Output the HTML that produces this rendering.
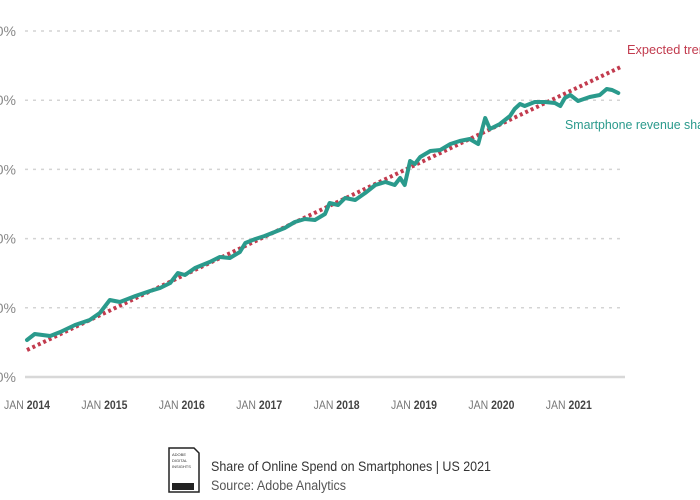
<!DOCTYPE html>
<html><head><meta charset="utf-8"><style>
html,body{margin:0;padding:0;background:#fff;width:700px;height:500px;overflow:hidden}
svg text{font-family:"Liberation Sans Narrow","Liberation Sans",sans-serif}
</style></head><body>
<svg id="chart" width="700" height="500" viewBox="0 0 700 500" xmlns="http://www.w3.org/2000/svg">
<g id="grid"></g>
<g id="yaxis"></g>
<g id="xaxis"></g>
<g id="series"></g>
<text x="627" y="54" font-size="13" fill="#c23b4e" textLength="86" lengthAdjust="spacingAndGlyphs">Expected trend</text>
<text x="565" y="129" font-size="13" fill="#2a9a8c" textLength="150" lengthAdjust="spacingAndGlyphs">Smartphone revenue share</text>
<g>
<path d="M169 448 H194 L199 453 V492 H169 Z" fill="#fff" stroke="#222" stroke-width="1.5"/>
<rect x="172" y="483" width="22" height="7" fill="#222"/>
<text x="172" y="456" font-size="4" fill="#333">ADOBE</text>
<text x="172" y="462" font-size="4" fill="#333">DIGITAL</text>
<text x="172" y="468" font-size="4" fill="#333">INSIGHTS</text>
</g>
<text x="211" y="471" font-size="14" fill="#333" textLength="280" lengthAdjust="spacingAndGlyphs">Share of Online Spend on Smartphones | US 2021</text>
<text x="211" y="490" font-size="13.5" fill="#555" textLength="135" lengthAdjust="spacingAndGlyphs">Source: Adobe Analytics</text>
</svg>
<script>
const yTicks = [0,10,20,30,40,50];
const yTickLabels = ["0%","10%","20%","30%","40%","50%"];
const xYears = [2014,2015,2016,2017,2018,2019,2020,2021];
const dates = [0.00,0.10,0.30,0.43,0.62,0.81,0.94,1.07,1.20,1.40,1.59,1.72,1.85,1.95,2.04,2.17,2.36,2.49,2.62,2.75,2.82,2.95,3.07,3.20,3.33,3.46,3.59,3.72,3.85,3.91,4.02,4.11,4.24,4.37,4.50,4.63,4.75,4.82,4.88,4.95,5.01,5.08,5.21,5.34,5.47,5.59,5.72,5.83,5.92,5.98,6.11,6.24,6.30,6.37,6.43,6.56,6.69,6.82,6.89,6.95,7.02,7.12,7.27,7.40,7.49,7.56,7.64];
const share = [5.35,6.21,5.92,6.50,7.51,8.24,9.25,11.13,10.84,11.71,12.43,12.86,13.58,15.03,14.74,15.75,16.62,17.34,17.20,18.06,19.36,19.94,20.38,20.95,21.53,22.40,22.83,22.69,23.55,25.14,24.86,25.87,25.58,26.59,27.75,28.18,27.75,28.76,27.75,31.21,30.78,31.79,32.66,32.80,33.67,34.10,34.39,33.67,37.43,35.84,36.56,37.72,38.73,39.45,39.16,39.74,39.74,39.60,39.16,40.32,40.75,39.88,40.46,40.75,41.62,41.47,41.04];
const trendDates = [0.0,7.69];
const trendValues = [3.9,44.9];

const NS="http://www.w3.org/2000/svg";
const x = t => 27 + t*77.4;
const y = v => 377 - v*6.92;
function mk(tag, attrs, parent){const e=document.createElementNS(NS,tag);for(const k in attrs)e.setAttribute(k,attrs[k]);parent.appendChild(e);return e;}
const grid=document.getElementById('grid'), ya=document.getElementById('yaxis'), xa=document.getElementById('xaxis'), se=document.getElementById('series');
yTicks.forEach((v,i)=>{
  const l=mk('line',{x1:25,x2:625,y1:y(v),y2:y(v),stroke:v===0?'#d8d8d8':'#d4d4d4','stroke-width':v===0?2.5:1.5,'stroke-dasharray':v===0?'':'3 5'},grid);
  
  
  const t=mk('text',{x:16,y:y(v)+5,'text-anchor':'end','font-size':14,fill:'#888'},ya);
  t.textContent=yTickLabels[i];
  
  
});
xYears.forEach(yr=>{
  const t=mk('text',{x:x(yr-2014)-23,y:409,'font-size':12,fill:'#777',textLength:46,lengthAdjust:'spacingAndGlyphs'},xa);
  
  
  const a=document.createElementNS(NS,'tspan');a.textContent='JAN ';t.appendChild(a);
  const b=document.createElementNS(NS,'tspan');b.textContent=String(yr);b.setAttribute('font-weight','bold');b.setAttribute('fill','#444');t.appendChild(b);
});
const trend=mk('line',{x1:x(trendDates[0]),y1:y(trendValues[0]),x2:x(trendDates[1]),y2:y(trendValues[1]),stroke:'#c23b4e','stroke-width':4,'stroke-dasharray':'3 3'},se);


const pts=dates.map((d,i)=>x(d).toFixed(1)+','+y(share[i]).toFixed(1)).join(' ');
const line=mk('polyline',{points:pts,fill:'none',stroke:'#2a9a8c','stroke-width':4,'stroke-linejoin':'round','stroke-linecap':'round'},se);


</script>
</body></html>
